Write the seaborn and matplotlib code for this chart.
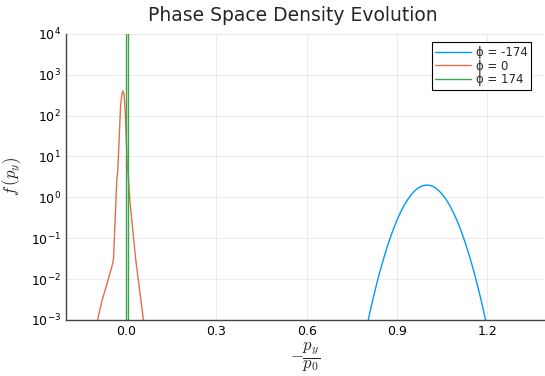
import numpy as np
import pandas as pd
import matplotlib
matplotlib.use("Agg")
import matplotlib.pyplot as plt
import seaborn as sns

# values
labels = ["ϕ = -174", "ϕ = 0", "ϕ = 174"]
colors = ["#009AFA", "#E36F47", "#3EA44E"]

x_m174 = [0.78, 0.79, 0.80, 0.81, 0.82, 0.83, 0.84, 0.85, 0.86, 0.87, 0.88, 0.89,
          0.90, 0.91, 0.92, 0.93, 0.94, 0.95, 0.96, 0.97, 0.98, 0.99, 1.00,
          1.01, 1.02, 1.03, 1.04, 1.05, 1.06, 1.07, 1.08, 1.09, 1.10, 1.11,
          1.12, 1.13, 1.14, 1.15, 1.16, 1.17, 1.18, 1.19, 1.20, 1.21, 1.22]
f_m174 = [1.3e-4, 3.0e-4, 6.7e-4, 1.47e-3, 3.1e-3, 6.2e-3, 1.2e-2, 2.22e-2, 3.97e-2, 6.8e-2,
          0.112, 0.178, 0.271, 0.396, 0.556, 0.75, 0.97, 1.21, 1.45, 1.67, 1.85, 1.96, 2.0,
          1.96, 1.85, 1.67, 1.45, 1.21, 0.97, 0.75, 0.556, 0.396, 0.271, 0.178,
          0.112, 6.8e-2, 3.97e-2, 2.22e-2, 1.2e-2, 6.2e-3, 3.1e-3, 1.47e-3, 6.7e-4, 3.0e-4, 1.3e-4]

x_0 = [-0.105, -0.095, -0.08, -0.065, -0.0475, -0.042, -0.0365, -0.031, -0.0276, -0.0233,
       -0.0183, -0.0133, -0.010, -0.0066, -0.0033, 0.0, 0.0033, 0.0056, 0.0133, 0.032,
       0.0449, 0.0575, 0.065]
f_0 = [5e-4, 1e-3, 3e-3, 7e-3, 0.02, 0.03, 0.28, 2.6, 4.6, 25,
       180, 350, 400, 320, 140, 33, 8, 4.6, 0.72, 0.03,
       0.0054, 1e-3, 4e-4]

x_174 = [0.0, 0.0, 0.005, 0.005]
f_174 = [1e-6, 1e6, 1e6, 1e-6]

xticks = [0.0, 0.3, 0.6, 0.9, 1.2]
yticks = [1e-3, 1e-2, 1e-1, 1e0, 1e1, 1e2, 1e3, 1e4]

sns.set_style("white")
plt.rcParams['font.family'] = ['DejaVu Sans']
plt.rcParams['mathtext.fontset'] = 'cm'

fig = plt.figure(figsize=(5.45, 3.76), dpi=100)
ax = fig.add_axes([0.121, 0.149, 0.877, 0.761])

for xs, fs, lab, c in zip([x_m174, x_0, x_174], [f_m174, f_0, f_174], labels, colors):
    df = pd.DataFrame({"x": xs, "f": fs})
    sns.lineplot(data=df, x="x", y="f", ax=ax, color=c, label=lab, lw=1,
                 estimator=None, sort=False)

ax.set_yscale("log")
ax.set_xlim(-0.2, 1.389)
ax.set_ylim(1e-3, 1e4)
ax.set_xticks(xticks)
ax.set_xticklabels([f"{t:.1f}" for t in xticks])
ax.set_yticks(yticks)
ax.yaxis.set_minor_locator(matplotlib.ticker.NullLocator())
ax.tick_params(direction="in", length=3, width=0.8, colors="#333333", labelsize=9,
               labelcolor="black")
ax.grid(True, color="#e8e8e8", lw=0.6)

for s in ["top", "right"]:
    ax.spines[s].set_visible(False)
for s in ["left", "bottom"]:
    ax.spines[s].set_color("#444444")
    ax.spines[s].set_linewidth(1)

ax.set_title("Phase Space Density Evolution", fontsize=13.5, x=0.475, pad=9)
ax.set_xlabel(r"$-\dfrac{p_y}{p_0}$", fontsize=12, labelpad=2)
ax.set_ylabel(r"$f\,(p_y)$", fontsize=12, labelpad=6)

leg = ax.legend(loc="upper right", bbox_to_anchor=(0.973, 0.97), fontsize=8.5,
                frameon=True, fancybox=False, framealpha=1, edgecolor="black",
                handlelength=3.0, labelspacing=0.05, borderpad=0.3, handletextpad=0.4,
                borderaxespad=0)
leg.get_frame().set_linewidth(0.8)

fig.savefig("out.png", dpi=100)
